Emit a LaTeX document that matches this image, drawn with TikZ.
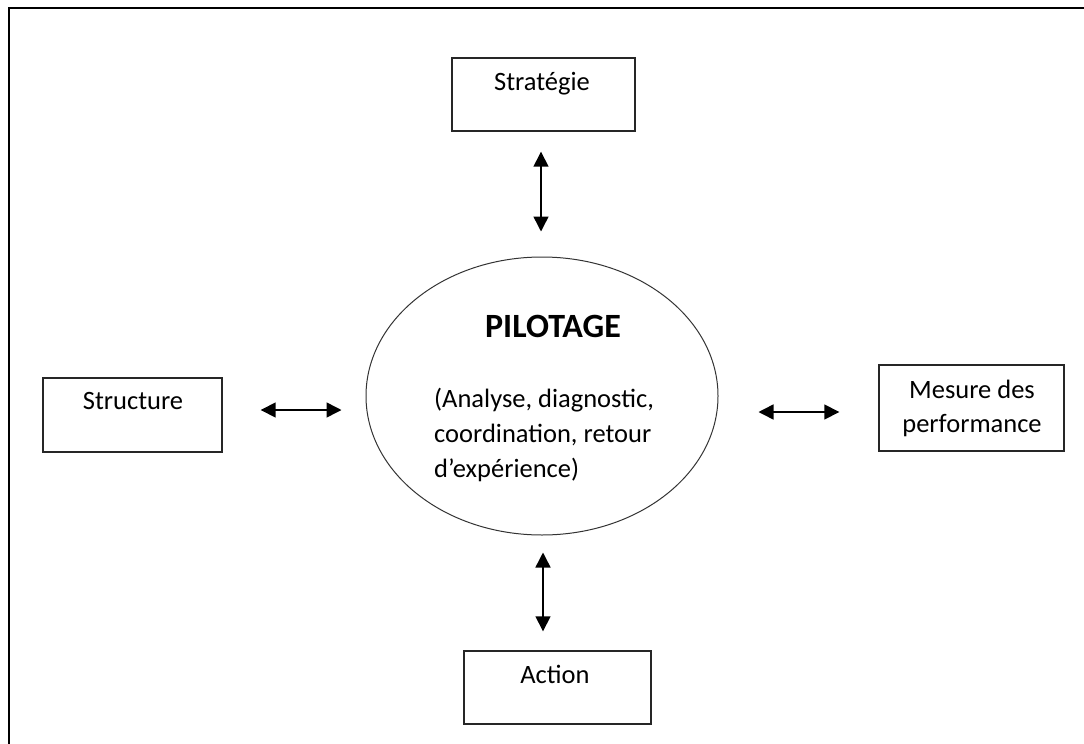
\documentclass[tikz,border=0pt]{standalone}
\usepackage{fontspec}
\setmainfont{Carlito}
\usetikzlibrary{shapes.geometric,arrows.meta}

\begin{document}
\begin{tikzpicture}[x=1pt,y=-1pt,
    box/.style={draw=black!85,line width=1.4pt,minimum width=#1,inner sep=0pt},
    txt/.style={font=\fontsize{26.5}{34}\selectfont,inner sep=0pt,anchor=base},
    dbl/.style={{Triangle[length=15pt,width=15pt]}-{Triangle[length=15pt,width=15pt]},line width=1.5pt},
    frame/.style={line width=1.6pt}]
  \useasboundingbox (0,0) rectangle (1084,744);

  % page border (only top and left edges fall inside the picture)
  \draw[frame] (9,744) -- (9,8) -- (1084,8);

  % central ellipse
  \node[ellipse,draw=black!80,line width=1pt,minimum width=352pt,minimum height=278pt,inner sep=0pt] (pil) at (542,396) {};
  \node[txt,font=\fontsize{34}{34}\selectfont\bfseries] (piltitle) at (553,337) {PILOTAGE};
  \node[txt,anchor=base west] (pil1) at (434,407) {(Analyse, diagnostic,};
  \node[txt,anchor=base west] (pil2) at (434,442) {coordination, retour};
  \node[txt,anchor=base west] (pil3) at (434,477) {d’expérience)};

  % surrounding boxes
  \node[box=183pt,minimum height=73pt] (strat) at (543.5,94.5) {};
  \node[txt] (strattxt) at (542,90) {Stratégie};

  \node[box=179pt,minimum height=74pt] (struct) at (132.5,415) {};
  \node[txt] (structtxt) at (133,409) {Structure};

  \node[box=185pt,minimum height=86pt] (mes) at (971.5,408) {};
  \node[txt] (mestxt1) at (972,398) {Mesure des};
  \node[txt] (mestxt2) at (972,432) {performance};

  \node[box=187pt,minimum height=73pt] (act) at (557.5,687.5) {};
  \node[txt] (acttxt) at (555,683) {Action};

  % two-way links
  \draw[dbl,shorten <=20pt,shorten >=25pt] ([xshift=-1pt]pil.north |- strat.south) -- ([xshift=-1pt]pil.north);
  \draw[dbl,shorten <=17pt,shorten >=19pt] ([xshift=1pt]pil.south) -- ([xshift=1pt]pil.south |- act.north);
  \draw[dbl] ([xshift=38pt,yshift=5pt]struct.east) -- ([xshift=-24pt,yshift=-14pt]pil.west);
  \draw[dbl] ([xshift=40pt,yshift=-16pt]pil.east) -- ([xshift=-39pt,yshift=-4pt]mes.west);
\end{tikzpicture}
\end{document}
